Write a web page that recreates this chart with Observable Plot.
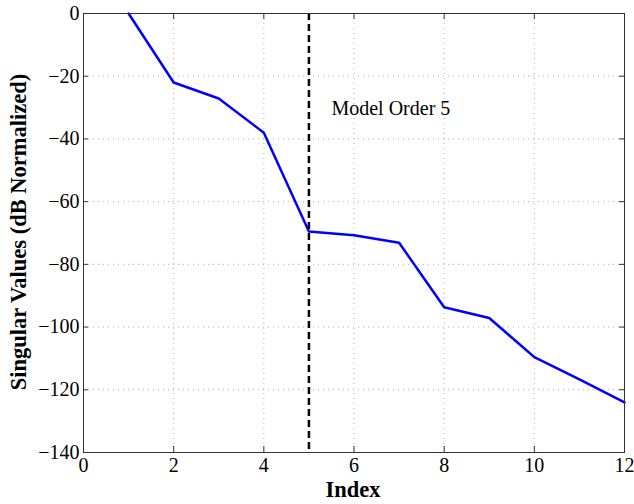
<!DOCTYPE html>
<html>
<head>
<meta charset="utf-8">
<script src="https://cdn.jsdelivr.net/npm/d3@7"></script>
<script src="https://cdn.jsdelivr.net/npm/@observablehq/plot@0.6"></script>
<style>
  html, body { margin: 0; padding: 0; background: #fff; }
</style>
</head>
<body>
<div id="chart"></div>
<script>
const indices = [1, 2, 3, 4, 5, 6, 7, 8, 9, 10, 11, 12];
const singularValues = [0, -22, -27.1, -38, -69.5, -70.7, -73.1, -93.7, -97.1, -109.6, -116.7, -124];
const xTicks = [0, 2, 4, 6, 8, 10, 12];
const yTicks = [-140, -120, -100, -80, -60, -40, -20, 0];
const modelOrder = 5;
const annotation = [{x: 5.5, y: -30.2, label: "Model Order 5"}];

const data = indices.map((d, i) => ({index: d, value: singularValues[i]}));
const font = "'Liberation Serif', 'Times New Roman', serif";
const fmt = d => d < 0 ? "\u2212" + Math.abs(d) : String(d);

const chart = Plot.plot({
  width: 634,
  height: 504,
  marginLeft: 83,
  marginRight: 10,
  marginTop: 13,
  marginBottom: 52,
  style: {fontFamily: font, fontSize: "20px", color: "#000", background: "#fff"},
  x: {domain: [0, 12], ticks: xTicks, label: null},
  y: {domain: [-140, 0], ticks: yTicks, label: null},
  marks: [
    Plot.gridX(xTicks, {stroke: "#b0b0b0", strokeOpacity: 1, strokeDasharray: "1,4", strokeWidth: 1}),
    Plot.gridY(yTicks, {stroke: "#b0b0b0", strokeOpacity: 1, strokeDasharray: "1,4", strokeWidth: 1}),
    // inward ticks (MATLAB style) on all four sides
    Plot.ruleX(xTicks, {insetTop: 433, stroke: "#333"}),
    Plot.ruleX(xTicks, {insetBottom: 433, stroke: "#333"}),
    Plot.ruleY(yTicks, {insetRight: 536, stroke: "#333"}),
    Plot.ruleY(yTicks, {insetLeft: 536, stroke: "#333"}),
    Plot.axisX(xTicks, {tickSize: 0, tickPadding: 5, fontSize: 20, label: null, tickFormat: fmt}),
    Plot.axisY(yTicks, {tickSize: 0, tickPadding: 4, fontSize: 20, label: null, tickFormat: fmt}),
    Plot.line(data, {x: "index", y: "value", stroke: "#0000ff", strokeWidth: 2.5}),
    Plot.ruleX([modelOrder], {stroke: "#000", strokeWidth: 2.5, strokeDasharray: "7,4"}),
    Plot.text(annotation, {x: "x", y: "y", text: "label", textAnchor: "start", fontSize: 20, fill: "#000"}),
    Plot.frame({stroke: "#333", strokeWidth: 1})
  ]
});

const svg = d3.select(chart);
svg.append("text")
  .attr("x", 353).attr("y", 497)
  .attr("text-anchor", "middle")
  .style("font-family", font).style("font-size", "22.5px").style("font-weight", "bold")
  .text("Index");
svg.append("text")
  .attr("transform", "translate(26,232) rotate(-90)")
  .attr("text-anchor", "middle")
  .style("font-family", font).style("font-size", "22.5px").style("font-weight", "bold")
  .text("Singular Values (dB Normalized)");

document.getElementById("chart").appendChild(chart);
</script>
</body>
</html>
